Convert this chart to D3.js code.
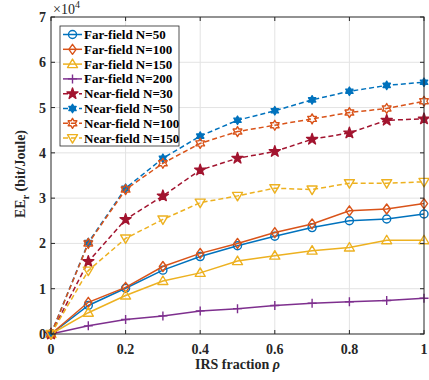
<!DOCTYPE html>
<html>
<head>
<meta charset="utf-8">
<script src="https://cdn.jsdelivr.net/npm/d3@7"></script>
<style>
  body { margin: 0; background: #fff; }
  svg { display: block; font-family: "Liberation Serif", "Times New Roman", serif; font-weight: bold; }
</style>
</head>
<body>
<svg id="chart" width="429" height="380"></svg>
<script>
// Data (EE in units of 10^4 bit/Joule)
const rho = [0, 0.1, 0.2, 0.3, 0.4, 0.5, 0.6, 0.7, 0.8, 0.9, 1];
const farN50 = [0, 0.63, 1.01, 1.41, 1.71, 1.95, 2.16, 2.35, 2.50, 2.54, 2.65];
const farN100 = [0, 0.70, 1.03, 1.49, 1.78, 2.00, 2.24, 2.43, 2.72, 2.76, 2.88];
const farN150 = [0, 0.47, 0.85, 1.17, 1.35, 1.61, 1.73, 1.84, 1.91, 2.07, 2.07];
const farN200 = [0, 0.18, 0.32, 0.40, 0.51, 0.56, 0.63, 0.68, 0.71, 0.74, 0.79];
const nearN30 = [0, 1.60, 2.53, 3.05, 3.62, 3.88, 4.03, 4.30, 4.44, 4.72, 4.75];
const nearN50 = [0, 2.02, 3.22, 3.88, 4.37, 4.72, 4.93, 5.17, 5.36, 5.49, 5.56];
const nearN100 = [0, 2.00, 3.19, 3.77, 4.21, 4.47, 4.61, 4.75, 4.89, 4.98, 5.14];
const nearN150 = [0, 1.40, 2.11, 2.53, 2.90, 3.05, 3.22, 3.19, 3.33, 3.33, 3.36];

const xTicks = [0, 0.2, 0.4, 0.6, 0.8, 1];
const yTicks = [0, 1, 2, 3, 4, 5, 6, 7];

const series = [
  { name: "Far-field N=50", values: farN50, color: "#0072BD", marker: "circle", dash: null },
  { name: "Far-field N=100", values: farN100, color: "#D95319", marker: "diamond", dash: null },
  { name: "Far-field N=150", values: farN150, color: "#EDB120", marker: "triangle", dash: null },
  { name: "Far-field N=200", values: farN200, color: "#7E2F8E", marker: "plus", dash: null },
  { name: "Near-field N=30", values: nearN30, color: "#A2142F", marker: "star", dash: "5,3" },
  { name: "Near-field N=50", values: nearN50, color: "#0072BD", marker: "hexfill", dash: "5,3" },
  { name: "Near-field N=100", values: nearN100, color: "#D95319", marker: "hexopen", dash: "5,3" },
  { name: "Near-field N=150", values: nearN150, color: "#EDB120", marker: "tridown", dash: "5,3" }
];

const margin = { top: 17, left: 51 };
const width = 373, height = 317;
const fs = 14;

const svg = d3.select("#chart");
const g = svg.append("g").attr("transform", `translate(${margin.left},${margin.top})`);

const x = d3.scaleLinear().domain([0, 1]).range([0, width]);
const y = d3.scaleLinear().domain([0, 7]).range([height, 0]);

// grid
g.append("g").selectAll("line").data(xTicks.slice(1, -1)).enter().append("line")
  .attr("x1", d => x(d)).attr("x2", d => x(d)).attr("y1", 0).attr("y2", height)
  .attr("stroke", "#e3e3e3").attr("stroke-width", 1);
g.append("g").selectAll("line").data(yTicks.slice(1, -1)).enter().append("line")
  .attr("y1", d => y(d)).attr("y2", d => y(d)).attr("x1", 0).attr("x2", width)
  .attr("stroke", "#e3e3e3").attr("stroke-width", 1);

// hexagram path
function hexagram(r) {
  const pts = [];
  for (let i = 0; i < 12; i++) {
    const a = -Math.PI / 2 + i * Math.PI / 6;
    const rr = i % 2 === 0 ? r : r / Math.sqrt(3);
    pts.push([rr * Math.cos(a), rr * Math.sin(a)]);
  }
  return "M" + pts.map(p => p.join(",")).join("L") + "Z";
}

function drawMarker(sel, s) {
  const m = s.marker;
  let p;
  if (m === "circle") {
    p = sel.append("circle").attr("r", 4).attr("fill", "none");
  } else if (m === "diamond") {
    p = sel.append("path").attr("d", "M0,-5L3.6,0L0,5L-3.6,0Z").attr("fill", "none");
  } else if (m === "triangle") {
    p = sel.append("path").attr("d", "M0,-5L5,3.5L-5,3.5Z").attr("fill", "none");
  } else if (m === "tridown") {
    p = sel.append("path").attr("d", "M0,5L5,-3.5L-5,-3.5Z").attr("fill", "none");
  } else if (m === "plus") {
    p = sel.append("path").attr("d", "M-4.5,0L4.5,0M0,-4.5L0,4.5").attr("fill", "none");
  } else if (m === "star") {
    p = sel.append("path").attr("d", d3.symbol(d3.symbolStar, 38)()).attr("fill", s.color);
  } else if (m === "hexfill") {
    p = sel.append("path").attr("d", hexagram(4.2)).attr("fill", s.color);
  } else if (m === "hexopen") {
    p = sel.append("path").attr("d", hexagram(5)).attr("fill", "none");
  }
  p.attr("stroke", s.color).attr("stroke-width", 1.4).attr("stroke-linejoin", "round");
}

const line = d3.line().x((d, i) => x(rho[i])).y(d => y(d));

series.forEach(s => {
  g.append("path")
    .datum(s.values)
    .attr("d", line)
    .attr("fill", "none")
    .attr("stroke", s.color)
    .attr("stroke-width", 1.5)
    .attr("stroke-dasharray", s.dash);
  g.append("g").selectAll("g").data(s.values).enter().append("g")
    .attr("transform", (d, i) => `translate(${x(rho[i])},${y(d)})`)
    .each(function() { drawMarker(d3.select(this), s); });
});

// axes box
g.append("rect").attr("width", width).attr("height", height)
  .attr("fill", "none").attr("stroke", "#262626").attr("stroke-width", 1);

const tickLen = 4;
xTicks.forEach(t => {
  g.append("line").attr("x1", x(t)).attr("x2", x(t)).attr("y1", height).attr("y2", height - tickLen).attr("stroke", "#262626");
  g.append("line").attr("x1", x(t)).attr("x2", x(t)).attr("y1", 0).attr("y2", tickLen).attr("stroke", "#262626");
  g.append("text").attr("x", x(t)).attr("y", height + 20).attr("text-anchor", "middle")
    .attr("font-size", fs).attr("fill", "#262626").text(d3.format("~g")(t));
});
yTicks.forEach(t => {
  g.append("line").attr("y1", y(t)).attr("y2", y(t)).attr("x1", 0).attr("x2", tickLen).attr("stroke", "#262626");
  g.append("line").attr("y1", y(t)).attr("y2", y(t)).attr("x1", width).attr("x2", width - tickLen).attr("stroke", "#262626");
  g.append("text").attr("x", -5).attr("y", y(t) + 5).attr("text-anchor", "end")
    .attr("font-size", fs).attr("fill", "#262626").text(t);
});

// exponent
const ex = svg.append("text").attr("x", 53).attr("y", 14).attr("font-size", fs).attr("fill", "#262626").attr("font-weight", "normal");
ex.append("tspan").text("\u00d710");
ex.append("tspan").attr("dy", -6).attr("font-size", 10).text("4");

// axis labels
const xl = svg.append("text").attr("x", margin.left + width / 2).attr("y", 369)
  .attr("text-anchor", "middle").attr("font-size", fs).attr("fill", "#262626");
xl.append("tspan").text("IRS fraction ");
xl.append("tspan").attr("font-style", "italic").text("\u03c1");

const yl = svg.append("text").attr("transform", "translate(25,174) rotate(-90)")
  .attr("text-anchor", "middle").attr("font-size", fs).attr("fill", "#262626");
yl.append("tspan").text("EE");
yl.append("tspan").attr("dy", 4).attr("font-size", 10).text("r");
yl.append("tspan").attr("dy", -4).text(" (bit/Joule)");

// legend
const lg = svg.append("g");
lg.append("rect").attr("x", 60).attr("y", 26).attr("width", 119).attr("height", 120)
  .attr("fill", "#fff").attr("stroke", "#262626").attr("stroke-width", 0.8);
series.forEach((s, i) => {
  const ly = 34.5 + i * 14.8;
  lg.append("line").attr("x1", 63).attr("x2", 82).attr("y1", ly).attr("y2", ly)
    .attr("stroke", s.color).attr("stroke-width", 1.5).attr("stroke-dasharray", s.dash);
  const mg = lg.append("g").attr("transform", `translate(72.5,${ly})`);
  drawMarker(mg, s);
  lg.append("text").attr("x", 84).attr("y", ly + 4.5).attr("font-size", 13).attr("fill", "#000").text(s.name);
});
</script>
</body>
</html>
